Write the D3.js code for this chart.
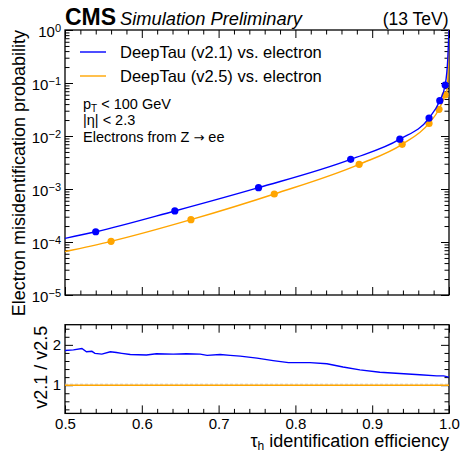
<!DOCTYPE html>
<html>
<head>
<meta charset="utf-8">
<script src="https://cdn.jsdelivr.net/npm/d3@7"></script>
<style>
  body { margin: 0; background: #fff; }
  svg { font-family: "Liberation Sans", Arial, Helvetica, sans-serif; }
</style>
</head>
<body>
<svg id="chart" width="462" height="455"></svg>
<script>
// ---------------- data ----------------
const seriesNames = ["DeepTau (v2.1) vs. electron", "DeepTau (v2.5) vs. electron"];
const seriesColors = ["#0000ff", "#ffa500"];

// efficiency / misidentification curves
const effV21 = [0.5, 0.54, 0.643, 0.752, 0.872, 0.936, 0.974, 0.988, 0.995, 0.9985, 1.0];
const misidV21 = [1.17e-4, 1.56e-4, 3.85e-4, 1.06e-3, 3.63e-3, 8.7e-3, 0.0218, 0.0464, 0.0917, 0.30, 1.0];
const effV25 = [0.5, 0.56, 0.664, 0.7725, 0.883, 0.939, 0.974, 0.987, 0.995, 0.9975, 0.9993, 1.0];
const misidV25 = [6.6e-5, 1.03e-4, 2.64e-4, 8.05e-4, 2.92e-3, 6.97e-3, 0.0173, 0.0319, 0.0594, 0.075, 0.30, 1.0];

// working-point markers
const markEffV21 = [0.54, 0.643, 0.752, 0.872, 0.936, 0.974, 0.988, 0.995];
const markMisidV21 = [1.56e-4, 3.85e-4, 1.06e-3, 3.63e-3, 8.7e-3, 0.0218, 0.0464, 0.0917];
const markEffV25 = [0.56, 0.664, 0.7725, 0.883, 0.939, 0.974, 0.987, 0.995];
const markMisidV25 = [1.03e-4, 2.64e-4, 8.05e-4, 2.92e-3, 6.97e-3, 0.0173, 0.0319, 0.0594];

// ratio v2.1 / v2.5
const ratioEff = [0.5, 0.511, 0.522, 0.528, 0.535, 0.539, 0.548, 0.559, 0.567, 0.574, 0.585, 0.606, 0.619, 0.641, 0.658, 0.676, 0.685, 0.702, 0.715, 0.728, 0.75, 0.771, 0.791, 0.819, 0.841, 0.862, 0.884, 0.91, 0.936, 0.962, 0.984, 0.993, 1.0];
const ratioVal = [1.86, 1.875, 1.91, 1.83, 1.84, 1.79, 1.77, 1.83, 1.81, 1.79, 1.76, 1.75, 1.78, 1.77, 1.78, 1.77, 1.74, 1.76, 1.74, 1.72, 1.67, 1.61, 1.56, 1.56, 1.53, 1.45, 1.38, 1.32, 1.29, 1.26, 1.23, 1.23, 1.2];
const ratioRef = [1, 1];
const ratioRefEff = [0.5, 1.0];

// ticks
const xTicks = [0.5, 0.6, 0.7, 0.8, 0.9, 1.0];
const xTickLabels = ["0.5", "0.6", "0.7", "0.8", "0.9", "1.0"];
const yExps = [-5, -4, -3, -2, -1, 0];
const ratioTicks = [1, 2];
const ratioTickLabels = ["1", "2"];

// ---------------- layout ----------------
const svg = d3.select("#chart");
const L = 65, R = 449;
const mainTop = 30, mainBot = 295;
const ratTop = 324.7, ratBot = 413.4;

const x = d3.scaleLinear().domain([0.5, 1.0]).range([L, R]);
const y = d3.scaleLog().domain([1e-5, 1]).range([mainBot, mainTop]);
const yr = d3.scaleLinear().domain([0.3, 2.5]).range([ratBot, ratTop]);

const MAJ = 8, MIN = 4.5;
const xMinor = d3.range(0.5, 1.0001, 0.02).map(v => +v.toFixed(2)).filter(v => !xTicks.some(t => Math.abs(t - v) < 1e-6));
const yMinor = [];
for (let e = -5; e < 0; e++) for (let m = 2; m <= 9; m++) yMinor.push(m * Math.pow(10, e));
const rMinor = d3.range(0.4, 2.5, 0.2).map(v => +v.toFixed(1)).filter(v => !ratioTicks.includes(v));

svg.append("defs").append("clipPath").attr("id", "clipMain")
  .append("rect").attr("x", L).attr("y", mainTop).attr("width", R - L).attr("height", mainBot - mainTop);
svg.select("defs").append("clipPath").attr("id", "clipRat")
  .append("rect").attr("x", L).attr("y", ratTop).attr("width", R - L).attr("height", ratBot - ratTop);

function styleAxis(g) {
  g.select(".domain").remove();
  g.selectAll(".tick line").attr("stroke", "#000").attr("stroke-width", 1);
  g.selectAll(".tick text").attr("fill", "#000").attr("font-size", 15);
}

function frameAxes(yScale, top, bot, yMajor, yMin, yLabelFn) {
  svg.append("g").attr("transform", `translate(0,${bot})`)
    .call(d3.axisBottom(x).tickValues(xTicks).tickSizeInner(-MAJ).tickSizeOuter(0).tickFormat(""))
    .call(styleAxis);
  svg.append("g").attr("transform", `translate(0,${bot})`)
    .call(d3.axisBottom(x).tickValues(xMinor).tickSizeInner(-MIN).tickSizeOuter(0).tickFormat(""))
    .call(styleAxis);
  svg.append("g").attr("transform", `translate(0,${top})`)
    .call(d3.axisTop(x).tickValues(xTicks).tickSizeInner(-MAJ).tickSizeOuter(0).tickFormat(""))
    .call(styleAxis);
  svg.append("g").attr("transform", `translate(0,${top})`)
    .call(d3.axisTop(x).tickValues(xMinor).tickSizeInner(-MIN).tickSizeOuter(0).tickFormat(""))
    .call(styleAxis);
  const gl = svg.append("g").attr("transform", `translate(${L},0)`)
    .call(d3.axisLeft(yScale).tickValues(yMajor).tickSizeInner(-MAJ).tickSizeOuter(0).tickPadding(4).tickFormat(""))
    .call(styleAxis);
  yLabelFn(gl);
  svg.append("g").attr("transform", `translate(${L},0)`)
    .call(d3.axisLeft(yScale).tickValues(yMin).tickSizeInner(-MIN).tickSizeOuter(0).tickFormat(""))
    .call(styleAxis);
  svg.append("g").attr("transform", `translate(${R},0)`)
    .call(d3.axisRight(yScale).tickValues(yMajor).tickSizeInner(-MAJ).tickSizeOuter(0).tickFormat(""))
    .call(styleAxis);
  svg.append("g").attr("transform", `translate(${R},0)`)
    .call(d3.axisRight(yScale).tickValues(yMin).tickSizeInner(-MIN).tickSizeOuter(0).tickFormat(""))
    .call(styleAxis);
  svg.append("rect").attr("x", L).attr("y", top).attr("width", R - L).attr("height", bot - top)
    .attr("fill", "none").attr("stroke", "#000").attr("stroke-width", 1.3);
}

// main panel
frameAxes(y, mainTop, mainBot, yExps.map(e => Math.pow(10, e)), yMinor, gl => {
  gl.selectAll(".tick text").each(function(d) {
    const t = d3.select(this).text(null);
    const e = Math.round(Math.log10(d));
    t.append("tspan").text("10");
    t.append("tspan").attr("dy", "-0.45em").attr("font-size", 11).text(e === 0 ? "0" : "\u2212" + Math.abs(e));
  });
  gl.selectAll(".tick text").attr("dy", "0.45em");
});

// ratio panel
frameAxes(yr, ratTop, ratBot, ratioTicks, rMinor, gl => {
  gl.selectAll(".tick text").text((d, i) => ratioTickLabels[i]);
});
svg.append("g").attr("transform", `translate(0,${ratBot})`)
  .call(d3.axisBottom(x).tickValues(xTicks).tickSize(0).tickPadding(5).tickFormat((d, i) => xTickLabels[i]))
  .call(g => { g.select(".domain").remove(); g.selectAll(".tick text").attr("font-size", 15).attr("fill", "#000"); });

// ---------------- curves ----------------
const lineMain = d3.line().x(d => x(d[0])).y(d => y(d[1])).curve(d3.curveMonotoneX);
const gMain = svg.append("g").attr("clip-path", "url(#clipMain)");
const curves = [d3.zip(effV21, misidV21), d3.zip(effV25, misidV25)];
const marks = [d3.zip(markEffV21, markMisidV21), d3.zip(markEffV25, markMisidV25)];
[1, 0].forEach(i => {
  gMain.append("path").datum(curves[i]).attr("d", lineMain)
    .attr("fill", "none").attr("stroke", seriesColors[i]).attr("stroke-width", 1.4);
  gMain.selectAll(null).data(marks[i]).join("circle")
    .attr("cx", d => x(d[0])).attr("cy", d => y(d[1])).attr("r", 3.6)
    .attr("fill", seriesColors[i]);
});

// ratio lines
const gRat = svg.append("g").attr("clip-path", "url(#clipRat)");
const lineRat = d3.line().x(d => x(d[0])).y(d => yr(d[1]));
gRat.append("path").datum(d3.zip(ratioRefEff, ratioRef)).attr("d", lineRat)
  .attr("fill", "none").attr("stroke", "#ccc").attr("stroke-width", 1).attr("stroke-dasharray", "3,2")
  .attr("transform", "translate(0,-1)");
gRat.append("path").datum(d3.zip(ratioRefEff, ratioRef)).attr("d", lineRat)
  .attr("fill", "none").attr("stroke", seriesColors[1]).attr("stroke-width", 1.4);
gRat.append("path").datum(d3.zip(ratioEff, ratioVal)).attr("d", lineRat)
  .attr("fill", "none").attr("stroke", seriesColors[0]).attr("stroke-width", 1.4);

// ---------------- legend ----------------
seriesNames.forEach((name, i) => {
  const ly = 52 + i * 24;
  svg.append("line").attr("x1", 80).attr("x2", 106).attr("y1", ly).attr("y2", ly)
    .attr("stroke", seriesColors[i]).attr("stroke-width", 1.4);
  svg.append("text").attr("x", 120).attr("y", ly + 6).attr("font-size", 16.5).attr("fill", "#000").text(name);
});

// annotations
const ann = svg.append("g").attr("font-size", 14.5).attr("fill", "#000");
const a1 = ann.append("text").attr("x", 83).attr("y", 108.5);
a1.append("tspan").text("p");
a1.append("tspan").attr("font-size", 10).attr("dy", 3).text("T");
a1.append("tspan").attr("dy", -3).text(" < 100 GeV");
ann.append("text").attr("x", 83).attr("y", 125).text("|\u03b7| < 2.3");
const a3 = ann.append("text").attr("x", 83).attr("y", 141.5);
a3.append("tspan").text("Electrons from Z ");
a3.append("tspan").attr("font-family", "DejaVu Sans").attr("font-size", 13).text("\u2192");
a3.append("tspan").text(" ee");

// ---------------- titles ----------------
svg.append("text").attr("x", 65).attr("y", 25).attr("font-size", 23).attr("font-weight", "bold").text("CMS");
svg.append("text").attr("x", 120).attr("y", 25).attr("font-size", 18.3).attr("font-style", "italic").text("Simulation Preliminary");
svg.append("text").attr("x", 448.5).attr("y", 25).attr("font-size", 17.5).attr("text-anchor", "end").text("(13 TeV)");

// axis titles
svg.append("text").attr("transform", `translate(25,${mainTop}) rotate(-90)`)
  .attr("text-anchor", "end").attr("font-size", 18).text("Electron misidentification probability");
svg.append("text").attr("transform", `translate(47,${ratTop + 1}) rotate(-90)`)
  .attr("text-anchor", "end").attr("font-size", 18).text("v2.1 / v2.5");
const xl = svg.append("text").attr("x", R).attr("y", 447).attr("text-anchor", "end").attr("font-size", 18);
xl.append("tspan").text("\u03c4");
xl.append("tspan").attr("font-size", 12).attr("dy", 3).text("h");
xl.append("tspan").attr("dy", -3).text(" identification efficiency");
</script>
</body>
</html>
